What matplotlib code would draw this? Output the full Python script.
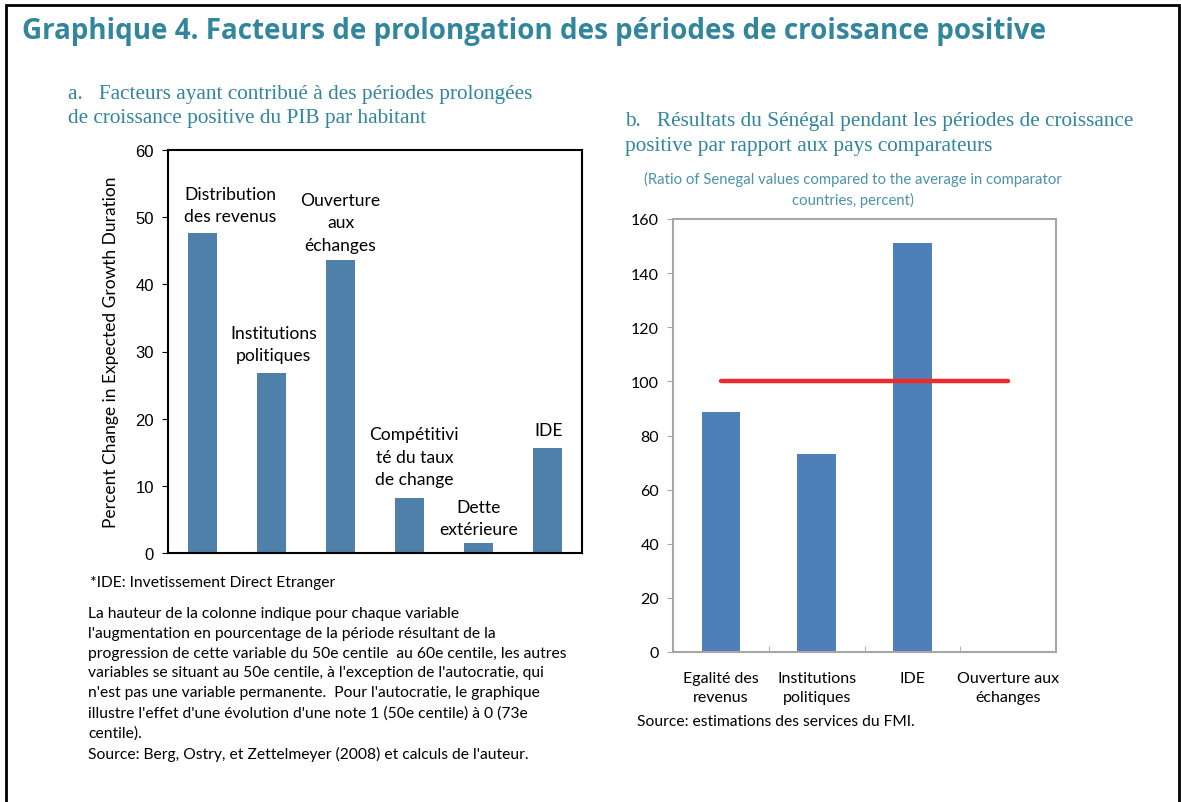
import matplotlib

matplotlib.use("Agg")
import matplotlib.pyplot as plt
from matplotlib.patches import Rectangle

W, H = 1181, 803

# panel a: contribution to growth duration
FACTORS_A = ["Distribution\ndes revenus", "Institutions\npolitiques", "Ouverture\naux\néchanges",
             "Compétitivi\nté du taux\nde change", "Dette\nextérieure", "IDE"]
VALUES_A = [47.7, 26.8, 43.6, 8.2, 1.5, 15.7]
# label anchor (x offset in categories, top y in data units) for the in-plot labels
LABEL_POS_A = [(0.4, 54.7), (0.03, 34.0), (0.0, 53.8), (0.07, 18.9), (0.0, 8.1), (0.02, 19.5)]
YTICKS_A = [0, 10, 20, 30, 40, 50, 60]

# panel b: Senegal vs comparators
FACTORS_B = ["Egalité des\nrevenus", "Institutions\npolitiques", "IDE", "Ouverture aux\néchanges"]
VALUES_B = [88.5, 73.0, 151.0, 0.0]
REFERENCE_B = 100
YTICKS_B = [0, 20, 40, 60, 80, 100, 120, 140, 160]

TEAL = "#31859C"
TEAL_LIGHT = "#4a93a9"
BAR_A = "#4f80aa"
BAR_B = "#4f7fb8"
SANS = ["Lato", "DejaVu Sans"]


def px(x, y):
    """pixel position -> figure fraction"""
    return x / W, 1 - y / H


def box(x0, y0, x1, y1):
    return [x0 / W, 1 - y1 / H, (x1 - x0) / W, (y1 - y0) / H]


fig = plt.figure(figsize=(W / 100, H / 100), dpi=100)

# outer frame
fig.add_artist(Rectangle(px(6, 820), (1179 - 6) / W, (820 - 6) / H, transform=fig.transFigure,
                         fill=False, edgecolor="black", lw=2.0))

fig.text(*px(22, 32), "Graphique 4. Facteurs de prolongation des périodes de croissance positive",
         fontsize=20, fontweight="bold", color=TEAL, family="Open Sans", va="center")

# ---- panel a
fig.text(*px(68, 95), "a.   Facteurs ayant contribué à des périodes prolongées",
         fontsize=15.3, color=TEAL, family="Liberation Serif", va="center")
fig.text(*px(68, 118), "de croissance positive du PIB par habitant",
         fontsize=15.3, color=TEAL, family="Liberation Serif", va="center")

ax = fig.add_axes(box(168, 151, 582, 554))
xa = range(len(VALUES_A))
ax.bar(xa, VALUES_A, width=0.41, color=BAR_A)
for i, (lab, (dx, y)) in enumerate(zip(FACTORS_A, LABEL_POS_A)):
    ax.text(i + dx, y, lab, ha="center", va="top", fontsize=12.6, family=SANS, linespacing=1.5)
ax.set_xlim(-0.5, len(VALUES_A) - 0.5)
ax.set_ylim(0, 60)
ax.set_yticks(YTICKS_A)
ax.set_xticks([])
ax.tick_params(axis="y", direction="out", length=4, labelsize=12, pad=6)
for t in ax.get_yticklabels():
    t.set_family("Liberation Sans")
for s in ax.spines.values():
    s.set_linewidth(1.5)
ax.set_ylabel("Percent Change in Expected Growth Duration", family=SANS, fontsize=12.5, labelpad=12)

fig.text(*px(90, 583), "*IDE: Invetissement Direct Etranger", fontsize=11.25, family=SANS, va="center")
note = ("La hauteur de la colonne indique pour chaque variable\n"
        "l'augmentation en pourcentage de la période résultant de la\n"
        "progression de cette variable du 50e centile  au 60e centile, les autres\n"
        "variables se situant au 50e centile, à l'exception de l'autocratie, qui\n"
        "n'est pas une variable permanente.  Pour l'autocratie, le graphique\n"
        "illustre l'effet d'une évolution d'une note 1 (50e centile) à 0 (73e\n"
        "centile).\n"
        "Source: Berg, Ostry, et Zettelmeyer (2008) et calculs de l'auteur.")
fig.text(*px(88, 607), note, fontsize=11.25, family=SANS, va="top", linespacing=1.53)

# ---- panel b
fig.text(*px(625, 122), "b.   Résultats du Sénégal pendant les périodes de croissance",
         fontsize=15.3, color=TEAL, family="Liberation Serif", va="center")
fig.text(*px(625, 147), "positive par rapport aux pays comparateurs",
         fontsize=15.3, color=TEAL, family="Liberation Serif", va="center")
fig.text(*px(853, 190), "(Ratio of Senegal values compared to the average in comparator\ncountries, percent)",
         fontsize=10.7, color=TEAL_LIGHT, family=SANS, ha="center", va="center", linespacing=1.45)

bx = fig.add_axes(box(673, 220, 1056, 653))
xb = range(len(VALUES_B))
bx.bar(xb, VALUES_B, width=0.4, color=BAR_B, zorder=2)
bx.plot([0, len(VALUES_B) - 1], [REFERENCE_B, REFERENCE_B], color="#ee2a2a", lw=3.2,
        solid_capstyle="round", zorder=3)
bx.set_xlim(-0.5, len(VALUES_B) - 0.5)
bx.set_ylim(0, 160)
bx.set_yticks(YTICKS_B)
bx.set_xticks(list(xb))
bx.set_xticklabels(FACTORS_B, family=SANS, fontsize=11.5, linespacing=1.45)
bx.set_xticks([i + 0.5 for i in range(len(VALUES_B) - 1)], minor=True)
bx.tick_params(axis="x", which="major", length=0, pad=14)
bx.tick_params(axis="x", which="minor", direction="in", length=4, color="#a6a6a6")
bx.tick_params(axis="y", direction="out", length=4, color="#a6a6a6", labelsize=11.5, pad=6)
for t in bx.get_yticklabels():
    t.set_family(SANS)
for s in bx.spines.values():
    s.set_color("#a6a6a6")
    s.set_linewidth(1.5)

fig.text(*px(637, 722), "Source: estimations des services du FMI.", fontsize=11.25, family=SANS, va="center")

fig.savefig("out.png", dpi=100)
